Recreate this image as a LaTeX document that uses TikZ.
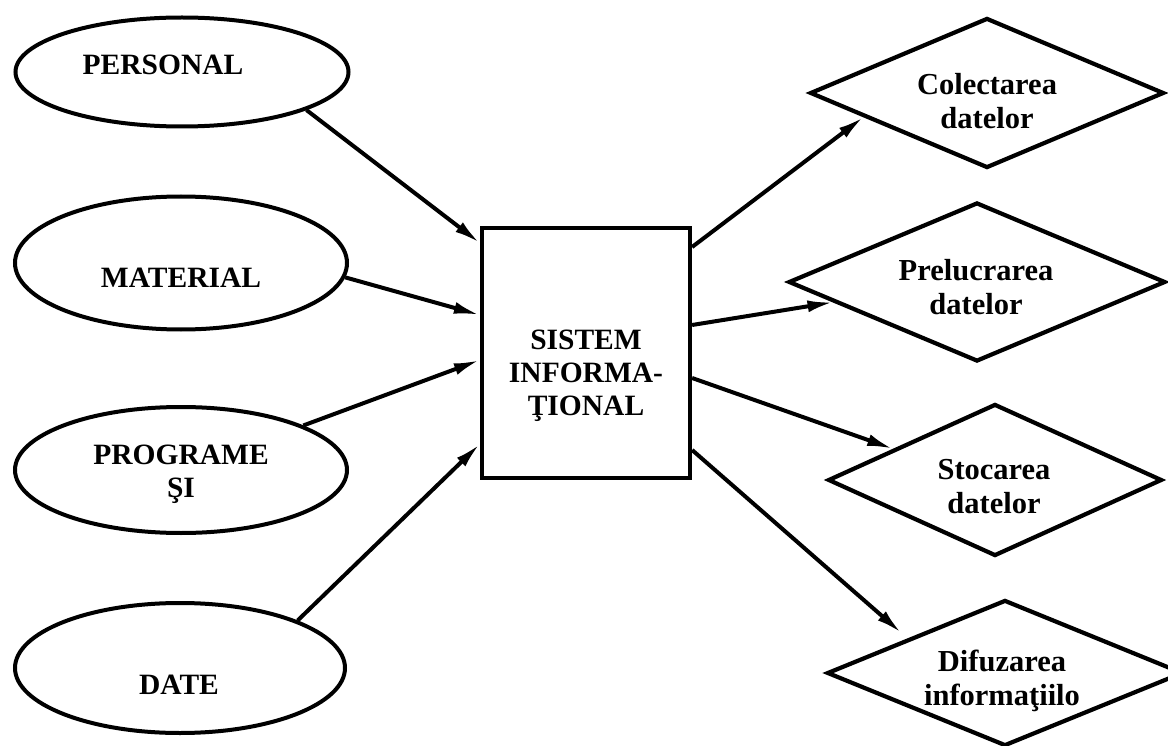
\documentclass[tikz,border=0pt]{standalone}
\usepackage{fontspec}
\setmainfont{Liberation Serif}
\usetikzlibrary{shapes.geometric,arrows.meta}
\begin{document}
\begin{tikzpicture}[x=1pt,y=-1pt,
  every node/.style={inner sep=0pt},
  ell/.style={draw,line width=4pt,ellipse},
  lbl/.style={font=\fontsize{29.5}{33}\selectfont\bfseries,align=center},
  tlbl/.style={font=\fontsize{30.5}{34}\selectfont\bfseries,align=center},
  sysbox/.style={draw,line width=4.2pt,rectangle,minimum width=208pt,minimum height=250pt},
  task/.style={draw,line width=4.2pt,diamond,aspect=2.3},
  flow/.style={line width=4pt,-{Latex[length=26pt,width=12pt]}}]
\useasboundingbox (0,0) rectangle (1168,746);
\clip (0,0) rectangle (1168,746);
\fill[white] (0,0) rectangle (1168,746);

% resources feeding the system
\node[ell,minimum width=333pt,minimum height=109pt] (pers) at (182,72) {};
\node[lbl] (persT) at (163,65) {PERSONAL};
\node[ell,minimum width=332pt,minimum height=133pt] (mat) at (181,263) {};
\node[lbl] (matT) at (181,278) {MATERIAL};
\node[ell,minimum width=332pt,minimum height=126pt] (prog) at (181,470) {};
\node[lbl] (progT) at (181,474) {PROGRAME\\ŞI};
\node[ell,minimum width=330pt,minimum height=130pt] (date) at (180,668) {};
\node[lbl] (dateT) at (179,685) {DATE};

% central system
\node[sysbox] (sys) at (586,353) {};
\node[lbl] (sysT) at (586,376) {SISTEM\\INFORMA-\\ŢIONAL};

% functions of the system
\node[task,minimum width=354pt,minimum height=150pt] (col) at (987,93) {};
\node[tlbl] (colT) at (987,101) {Colectarea\\datelor};
\node[task,minimum width=377pt,minimum height=159pt] (prel) at (977,282) {};
\node[tlbl] (prelT) at (976,287) {Prelucrarea\\datelor};
\node[task,minimum width=334pt,minimum height=152pt] (stoc) at (995,480) {};
\node[tlbl] (stocT) at (994,487) {Stocarea\\datelor};
\node[task,minimum width=356pt,minimum height=146pt] (dif) at (1005,673) {};
\node[tlbl] (difT) at (1002,681) {Difuzarea\\informaţiilo};

% inputs
\draw[flow] (pers.-17) -- ([yshift=110pt]sys.west);
\draw[flow] (mat.-5) -- ([yshift=38pt]sys.west);
\draw[flow] (prog.20) -- ([yshift=-7pt]sys.west);
\draw[flow] (date.22) -- ([yshift=-91pt]sys.west);

% outputs
\draw[flow] ([yshift=106pt]sys.east) -- (col.191);
\draw[flow] ([yshift=28pt]sys.east) -- (prel.188);
\draw[flow] ([yshift=-25pt]sys.east) -- (stoc.163);
\draw[flow] ([yshift=-97pt]sys.east) -- ([shift={(-12pt,3pt)}]dif.158);
\end{tikzpicture}
\end{document}
